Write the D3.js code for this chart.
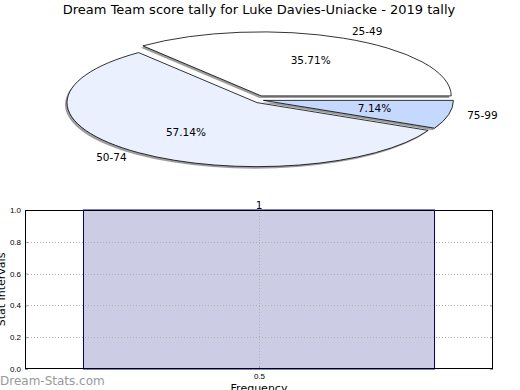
<!DOCTYPE html>
<html>
<head>
<meta charset="utf-8">
<script src="https://cdn.jsdelivr.net/npm/d3@7"></script>
<style>
  body { margin: 0; background: #fff; }
  svg { font-family: "DejaVu Sans", sans-serif; display: block; }
</style>
</head>
<body>
<div id="chart"></div>
<script>
// --- DATA ---
const title       = 'Dream Team score tally for Luke Davies-Uniacke - 2019 tally';
const pieLabels   = ['25-49', '50-74', '75-99'];
const pieValues   = [35.71, 57.14, 7.14];
const pieColors   = ['#ffffff', '#eaf0fd', '#c5d8fd'];

const barCats     = ['0.5'];
const barValues   = [1];
const barLabels   = ['1'];
const yTicks      = [0, 0.2, 0.4, 0.6, 0.8, 1.0];

const width = 520, height = 390;

const svg = d3.select('#chart')
  .append('svg')
  .attr('width', width)
  .attr('height', height);

// --- TITLE ---
svg.append('text')
  .attr('x', 259).attr('y', 14)
  .attr('text-anchor', 'middle')
  .style('font-size', '13px')
  .text(title);

// --- PIE (elliptic, exploded, with shadow) ---
const cx = 259.5, cy = 99.5, rx = 190, ry = 64, explode = 4;

// matplotlib style: start at 3 o'clock, go counterclockwise
const pie = d3.pie().sort(null)
  .startAngle(Math.PI / 2)
  .endAngle(Math.PI / 2 - 2 * Math.PI);
const arcs = pie(pieValues);
const arcGen = d3.arc().innerRadius(0).outerRadius(1);

arcs.forEach(a => {
  a.mid = (a.startAngle + a.endAngle) / 2;
  a.ox  = cx + explode * Math.sin(a.mid);
  a.oy  = cy - explode * Math.cos(a.mid);
});

const gPie = svg.append('g');

// shadows first
gPie.selectAll('path.shadow')
  .data(arcs)
  .enter().append('path')
    .attr('class', 'shadow')
    .attr('transform', d => `translate(${d.ox - 2},${d.oy + 2}) scale(${rx},${ry})`)
    .attr('d', arcGen)
    .attr('fill', '#4d4d4d')
    .attr('fill-opacity', 0.55)
    .attr('stroke', 'none');

gPie.selectAll('path.wedge')
  .data(arcs)
  .enter().append('path')
    .attr('class', 'wedge')
    .attr('transform', d => `translate(${d.ox},${d.oy}) scale(${rx},${ry})`)
    .attr('d', arcGen)
    .attr('fill', (d, i) => pieColors[i])
    .attr('stroke', '#000')
    .attr('stroke-width', 0.8)
    .attr('stroke-linejoin', 'round')
    .attr('vector-effect', 'non-scaling-stroke');

// outer labels
gPie.selectAll('text.lab')
  .data(arcs)
  .enter().append('text')
    .attr('class', 'lab')
    .attr('x', d => d.ox + 1.1 * rx * Math.sin(d.mid))
    .attr('y', d => d.oy - 1.1 * ry * Math.cos(d.mid))
    .attr('text-anchor', d => Math.sin(d.mid) > 0 ? 'start' : 'end')
    .attr('dominant-baseline', 'middle')
    .style('font-size', '10.5px')
    .text((d, i) => pieLabels[i]);

// percent labels
gPie.selectAll('text.pct')
  .data(arcs)
  .enter().append('text')
    .attr('class', 'pct')
    .attr('x', d => d.ox + 0.6 * rx * Math.sin(d.mid))
    .attr('y', d => d.oy - 0.6 * ry * Math.cos(d.mid))
    .attr('text-anchor', 'middle')
    .attr('dominant-baseline', 'middle')
    .style('font-size', '10.5px')
    .text(d => d.data.toFixed(2) + '%');

// --- BAR CHART ---
const bx0 = 25, bx1 = 493, by0 = 210, by1 = 369;

const x = d3.scaleLinear().domain([0, 1]).range([bx0, bx1]);
const y = d3.scaleLinear().domain([0, 1]).range([by1, by0]);
const barW = 0.75;

const gBar = svg.append('g');

// bars
gBar.selectAll('rect.bar')
  .data(barValues)
  .enter().append('rect')
    .attr('class', 'bar')
    .attr('x', (d, i) => x(+barCats[i] - barW / 2))
    .attr('y', d => y(d))
    .attr('width', x(barW) - x(0))
    .attr('height', d => y(0) - y(d))
    .attr('fill', '#ccccE5')
    .attr('stroke', '#00008b')
    .attr('stroke-width', 1);

// grid lines
gBar.selectAll('line.hgrid')
  .data(yTicks.slice(1, -1))
  .enter().append('line')
    .attr('x1', bx0).attr('x2', bx1)
    .attr('y1', d => Math.round(y(d)) + 0.5)
    .attr('y2', d => Math.round(y(d)) + 0.5)
    .attr('stroke', '#b0b0b0')
    .attr('stroke-dasharray', '1,2');

gBar.selectAll('line.vgrid')
  .data(barCats)
  .enter().append('line')
    .attr('x1', d => Math.round(x(+d)) + 0.5)
    .attr('x2', d => Math.round(x(+d)) + 0.5)
    .attr('y1', by0).attr('y2', by1)
    .attr('stroke', '#b0b0b0')
    .attr('stroke-dasharray', '1,2');

// axes (ticks inward like matplotlib)
const yAxisL = d3.axisLeft(y).tickValues(yTicks).tickFormat(d3.format('.1f'))
  .tickSizeInner(-3).tickSizeOuter(0).tickPadding(4);
gBar.append('g')
  .attr('transform', `translate(${bx0},0)`)
  .call(yAxisL)
  .call(g => g.select('.domain').remove())
  .call(g => g.selectAll('line').attr('stroke', '#999'))
  .call(g => g.selectAll('text').style('font-size', '8px').attr('fill', '#000'));

const yAxisR = d3.axisRight(y).tickValues(yTicks).tickFormat('')
  .tickSizeInner(-3).tickSizeOuter(0);
gBar.append('g')
  .attr('transform', `translate(${bx1},0)`)
  .call(yAxisR)
  .call(g => g.select('.domain').remove())
  .call(g => g.selectAll('line').attr('stroke', '#999'));

const xAxis = d3.axisBottom(x).tickValues(barCats.map(Number)).tickFormat(d3.format('.1f'))
  .tickSizeInner(-3).tickSizeOuter(0).tickPadding(4);
gBar.append('g')
  .attr('transform', `translate(0,${by1})`)
  .call(xAxis)
  .call(g => g.select('.domain').remove())
  .call(g => g.selectAll('line').attr('stroke', '#999'))
  .call(g => g.selectAll('text').style('font-size', '8px').attr('fill', '#000'));

// frame
gBar.append('rect')
  .attr('x', bx0 + 0.5).attr('y', by0 + 0.5)
  .attr('width', bx1 - bx0 - 1).attr('height', by1 - by0 - 1)
  .attr('fill', 'none')
  .attr('stroke', '#000')
  .attr('stroke-width', 1);

// value label on bar
gBar.selectAll('text.val')
  .data(barValues)
  .enter().append('text')
    .attr('x', (d, i) => x(+barCats[i]))
    .attr('y', d => y(d) - 1)
    .attr('text-anchor', 'middle')
    .attr('fill', '#000033')
    .style('font-size', '10.5px')
    .text((d, i) => barLabels[i]);

// axis titles
svg.append('text')
  .attr('transform', `translate(5,${(by0 + by1) / 2}) rotate(-90)`)
  .attr('text-anchor', 'middle')
  .style('font-size', '11px')
  .text('Stat Intervals');

svg.append('text')
  .attr('x', x(0.5)).attr('y', 392)
  .attr('text-anchor', 'middle')
  .style('font-size', '11px')
  .text('Frequency');

// watermark
svg.append('text')
  .attr('x', 0).attr('y', 385)
  .attr('fill', '#999')
  .style('font-size', '12px')
  .text('Dream-Stats.com');
</script>
</body>
</html>
